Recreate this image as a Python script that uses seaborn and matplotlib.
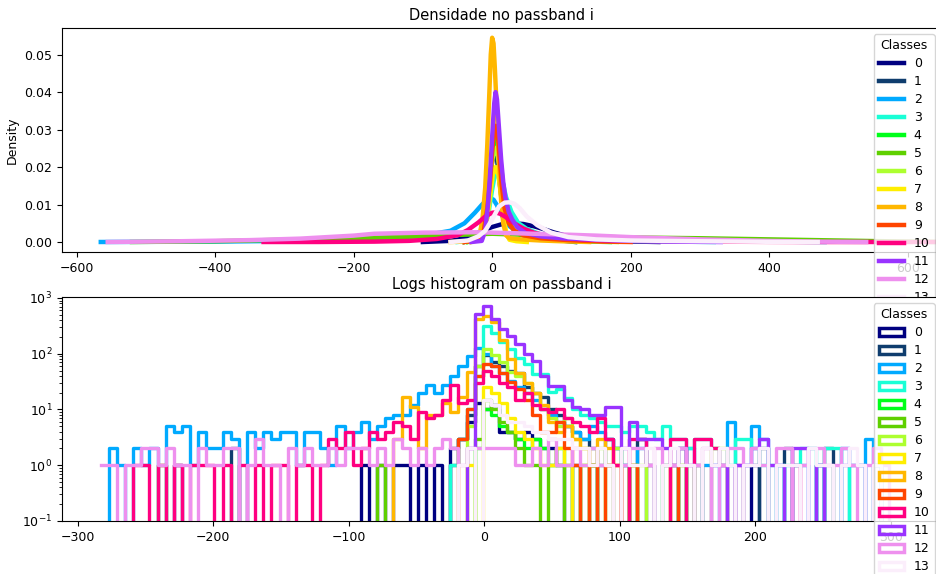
import numpy as np
import matplotlib
matplotlib.use("Agg")
import matplotlib.pyplot as plt
from matplotlib.patches import Patch
import seaborn as sns

# ---------------- data ----------------
classes = [str(i) for i in range(14)]
colors = ['#000080', '#0f3d6e', '#00aaff', '#19ffd6', '#00ff1a', '#5fd000', '#adff2f',
          '#ffee00', '#ffb700', '#ff4500', '#ff0080', '#9933ff', '#ee90ee', '#fbeefb']

# density curves (x, density)
k0x = [-100, -60, -40, -20, 0, 15, 30, 45, 60, 75, 90, 110, 140, 180, 240]
k0y = [0, 0.0003, 0.001, 0.0025, 0.004, 0.0048, 0.005, 0.0048, 0.0042, 0.0034, 0.0025, 0.0015, 0.0006, 0.0002, 0]
k1x = [-40, -20, -12, -6, -2, 2, 4, 7, 10, 14, 19, 25, 35, 50, 80, 120]
k1y = [0, 0.001, 0.004, 0.011, 0.019, 0.0235, 0.024, 0.022, 0.017, 0.011, 0.007, 0.0045, 0.003, 0.0018, 0.0008, 0]
k2x = [-565, -400, -300, -200, -100, -60, -40, -25, -15, -8, -3, 2, 7, 12, 18, 25, 35, 50, 75, 100, 150, 200, 300, 400, 480]
k2y = [0, 0.0001, 0.0003, 0.0007, 0.0017, 0.003, 0.005, 0.0078, 0.0099, 0.0112, 0.0117, 0.0113, 0.0098, 0.0078,
       0.0058, 0.0042, 0.003, 0.002, 0.0013, 0.001, 0.0007, 0.0005, 0.0002, 0.0001, 0]
k3x = [-50, -25, -12, -5, 0, 5, 9, 14, 20, 28, 38, 50, 70, 100, 140, 200, 260, 320]
k3y = [0, 0.0005, 0.003, 0.008, 0.014, 0.019, 0.020, 0.017, 0.012, 0.008, 0.005, 0.0035, 0.002, 0.0012, 0.0006, 0.0003, 0.0001, 0]
k4x = [-35, -18, -10, -5, -1, 3, 6, 9, 13, 17, 21, 26, 32, 40, 55, 80, 120, 170]
k4y = [0, 0.001, 0.005, 0.012, 0.021, 0.027, 0.028, 0.026, 0.020, 0.013, 0.008, 0.005, 0.003, 0.002, 0.0012, 0.0006, 0.0002, 0]
k5x = [-520, -400, -300, -200, -100, -50, 0, 50, 100, 200, 300, 400, 500, 600, 648]
k5y = [0, 0.0002, 0.0006, 0.001, 0.0015, 0.0019, 0.0022, 0.0019, 0.0016, 0.0012, 0.001, 0.0007, 0.0004, 0.0001, 0]
k6x = [-40, -20, -12, -6, -2, 2, 5, 8, 12, 16, 21, 27, 35, 45, 60, 90, 130, 180]
k6y = [0, 0.001, 0.004, 0.011, 0.019, 0.024, 0.025, 0.023, 0.018, 0.012, 0.008, 0.005, 0.0035, 0.0025, 0.0015, 0.0007, 0.0002, 0]
k7x = [-30, -15, -8, -3, 1, 5, 9, 13, 17, 21, 25, 35, 50]
k7y = [0, 0.0008, 0.005, 0.012, 0.018, 0.020, 0.018, 0.012, 0.006, 0.002, 0.0006, 0.0002, 0]
k8x = [-60, -30, -22, -18, -14, -10, -7, -4, -2, 0, 2, 4, 7, 10, 13, 16, 20, 25, 35, 50, 70, 100, 140]
k8y = [0, 0.0002, 0.0007, 0.002, 0.006, 0.0145, 0.026, 0.040, 0.050, 0.0545, 0.053, 0.046, 0.034, 0.021, 0.011,
       0.005, 0.0018, 0.001, 0.0008, 0.0006, 0.0004, 0.0002, 0]
k9x = [-40, -20, -12, -7, -3, 0, 3, 5, 8, 11, 14, 18, 24, 32, 45, 70, 110, 160, 200]
k9y = [0, 0.0005, 0.003, 0.009, 0.016, 0.024, 0.030, 0.031, 0.029, 0.022, 0.015, 0.009, 0.005, 0.003, 0.0018, 0.001, 0.0005, 0.0001, 0]
k10x = [-330, -250, -170, -120, -80, -50, -35, -20, -10, 0, 5, 12, 20, 30, 45, 60, 80, 110, 150, 200, 300, 400, 460, 560, 640]
k10y = [0, 0, 0.0001, 0.0003, 0.0008, 0.0018, 0.0032, 0.0052, 0.0068, 0.0078, 0.0079, 0.0075, 0.0066, 0.0052, 0.0036,
        0.0025, 0.0016, 0.0009, 0.0005, 0.0003, 0.0001, 0.00003, 0, 0, 0]
k11x = [-30, -15, -10, -6, -3, 0, 3, 5, 7, 10, 13, 16, 19, 24, 29, 36, 48, 70, 100, 150, 200, 260, 330]
k11y = [0, 0.0003, 0.003, 0.010, 0.018, 0.028, 0.037, 0.040, 0.038, 0.030, 0.022, 0.016, 0.012, 0.008, 0.006, 0.004,
        0.0024, 0.0015, 0.001, 0.0006, 0.0003, 0.0001, 0]
k12x = [-555, -450, -350, -277, -200, -170, -100, -26, 0, 40, 100, 150, 200, 300, 400, 470, 540]
k12y = [0, 0.0002, 0.0005, 0.0009, 0.0017, 0.0022, 0.0025, 0.0026, 0.0025, 0.0023, 0.002, 0.0017, 0.0013, 0.0007, 0.0003, 0.0001, 0]
k13x = [-60, -35, -20, -10, 0, 10, 18, 25, 32, 40, 50, 65, 85, 110, 150, 200, 300, 400, 470]
k13y = [0, 0.0004, 0.0015, 0.003, 0.006, 0.0095, 0.0105, 0.0106, 0.0102, 0.009, 0.0068, 0.0045, 0.0025, 0.0013,
        0.0007, 0.0004, 0.0002, 0.00005, 0]

kde_x = [k0x, k1x, k2x, k3x, k4x, k5x, k6x, k7x, k8x, k9x, k10x, k11x, k12x, k13x]
kde_y = [k0y, k1y, k2y, k3y, k4y, k5y, k6y, k7y, k8y, k9y, k10y, k11y, k12y, k13y]

# histogram counts per class (bins of width 6 starting at -283)
bin_start = -283
bin_width = 6
h0 = [0, 0, 0, 0, 0, 0, 0, 0, 0, 1,  0, 0, 0, 0, 0, 0, 0, 0, 0, 0,  0, 0, 0, 0, 0, 0, 0, 0, 0, 0,
      0, 0, 1, 0, 1, 0, 1, 1, 0, 1,  0, 1, 0, 2, 3, 6, 13, 10, 12, 4,  4, 3, 4, 3, 2, 2, 1, 0, 1, 0,
      1, 0, 0, 0, 0, 0, 0, 0, 0, 0,  0, 0, 0, 0, 0, 0, 0, 0, 0, 0,  1, 0, 0, 0, 0, 0, 0, 0, 1, 0,
      0, 0, 0, 0, 0, 0, 0, 0]
h1 = [0, 0, 0, 0, 0, 0, 0, 0, 0, 0,  0, 0, 0, 0, 0, 0, 2, 0, 0, 0,  0, 0, 0, 0, 0, 0, 0, 0, 0, 0,
      0, 0, 0, 0, 0, 0, 0, 0, 0, 0,  0, 0, 0, 1, 3, 8, 60, 95, 70, 60,  50, 45, 25, 20, 17, 10, 8, 5, 4, 3,
      2, 1, 3, 2, 1, 0, 3, 0, 0, 0,  0, 2, 0, 0, 0, 0, 0, 0, 0, 0,  0, 2, 0, 0, 2, 0, 0, 0, 0, 2,
      0, 0, 0, 0, 0, 0, 0, 0]
h2 = [0, 2, 1, 0, 2, 1, 2, 0, 5, 4,  5, 1, 4, 2, 2, 4, 3, 0, 4, 2,  4, 3, 4, 4, 1, 4, 4, 2, 1, 5,
      2, 4, 6, 3, 5, 7, 8, 8, 12, 20,  28, 20, 28, 40, 60, 90, 125, 100, 60, 45,  32, 25, 20, 15, 10, 8, 6, 5, 4, 3,
      5, 4, 3, 2, 1, 0, 2, 1, 0, 1,  1, 0, 2, 0, 1, 1, 0, 6, 0, 1,  5, 3, 0, 1, 0, 1, 1, 0, 1, 0,
      0, 2, 0, 0, 3, 1, 0, 0]
h3 = [0, 0, 0, 0, 0, 0, 0, 0, 0, 0,  0, 0, 0, 0, 0, 0, 0, 0, 0, 0,  0, 0, 0, 0, 0, 0, 0, 0, 0, 0,
      0, 0, 0, 0, 0, 0, 0, 0, 0, 0,  0, 0, 0, 1, 3, 10, 40, 320, 240, 160,  120, 85, 65, 43, 43, 21, 23, 16, 10, 8,
      7, 6, 5, 5, 4, 5, 5, 4, 3, 5,  3, 3, 2, 3, 3, 2, 1, 1, 3, 3,  2, 1, 1, 0, 1, 1, 2, 2, 0, 2,
      2, 0, 1, 1, 0, 1, 0, 0]
h4 = [0, 0, 0, 0, 0, 0, 0, 0, 0, 0,  0, 0, 0, 0, 0, 0, 0, 0, 0, 0,  0, 0, 0, 0, 0, 0, 0, 0, 0, 0,
      0, 0, 0, 0, 0, 0, 0, 0, 0, 0,  0, 0, 0, 0, 0, 0, 2, 10, 8, 5,  4, 3, 2, 3, 2, 1, 2, 1, 0, 1,
      1, 0, 0, 0, 0, 1, 0, 0, 0, 0,  0, 0, 0, 0, 0, 0, 0, 0, 0, 0,  0, 0, 0, 0, 0, 0, 0, 0, 0, 0,
      0, 0, 0, 0, 0, 0, 0, 0]
h5 = [0, 0, 0, 0, 0, 0, 0, 1, 0, 0,  0, 0, 0, 0, 0, 0, 0, 0, 0, 0,  0, 0, 0, 0, 0, 0, 0, 0, 0, 0,
      0, 0, 0, 0, 1, 0, 0, 0, 0, 0,  0, 0, 0, 0, 0, 0, 3, 15, 10, 6,  4, 2, 1, 1, 0, 1, 1, 0, 0, 0,
      1, 0, 1, 0, 0, 0, 0, 0, 0, 0,  0, 1, 0, 1, 0, 0, 0, 0, 0, 0,  0, 0, 0, 0, 0, 0, 0, 0, 0, 0,
      0, 0, 0, 0, 0, 0, 0, 0]
h6 = [0, 0, 0, 0, 0, 0, 0, 0, 0, 0,  0, 0, 0, 0, 0, 0, 0, 0, 0, 0,  0, 0, 0, 0, 0, 0, 0, 0, 0, 0,
      0, 0, 0, 0, 0, 0, 0, 0, 0, 0,  0, 0, 0, 0, 0, 5, 60, 120, 95, 70,  47, 40, 30, 20, 10, 7, 5, 7, 3, 2,
      1, 2, 1, 2, 0, 0, 1, 0, 0, 1,  0, 1, 0, 0, 0, 2, 2, 0, 0, 0,  0, 0, 0, 0, 0, 0, 0, 0, 0, 0,
      0, 0, 0, 0, 0, 0, 0, 0]
h7 = [0, 0, 0, 0, 0, 0, 0, 0, 0, 0,  0, 0, 0, 0, 0, 0, 0, 0, 0, 0,  0, 0, 0, 0, 0, 0, 0, 0, 0, 0,
      0, 0, 0, 0, 0, 0, 0, 0, 0, 0,  0, 0, 0, 0, 0, 1, 0, 25, 20, 13,  7, 4, 3, 2, 1, 1, 2, 1, 0, 1,
      0, 0, 0, 0, 0, 0, 0, 0, 0, 0,  0, 0, 0, 0, 0, 0, 0, 0, 0, 0,  0, 0, 0, 0, 0, 0, 0, 0, 0, 0,
      0, 0, 0, 0, 0, 0, 0, 0]
h8 = [0, 0, 0, 0, 0, 0, 0, 0, 0, 0,  0, 0, 0, 0, 0, 0, 0, 0, 0, 0,  0, 0, 0, 0, 0, 0, 0, 0, 0, 0,
      0, 0, 0, 0, 0, 0, 3, 17, 11, 2,  8, 8, 13, 9, 17, 48, 420, 470, 370, 180,  80, 45, 30, 20, 12, 6, 4, 5, 3, 2,
      1, 3, 2, 1, 0, 1, 0, 0, 0, 0,  0, 0, 0, 0, 0, 0, 0, 0, 0, 0,  0, 0, 0, 0, 0, 0, 0, 0, 0, 0,
      0, 0, 0, 0, 0, 0, 0, 0]
h9 = [0, 0, 0, 0, 0, 0, 0, 0, 0, 0,  0, 0, 0, 0, 0, 0, 0, 0, 0, 0,  0, 0, 0, 0, 0, 0, 0, 0, 0, 0,
      0, 0, 0, 0, 0, 0, 0, 0, 0, 0,  0, 0, 0, 0, 3, 10, 40, 65, 60, 45,  31, 23, 15, 8, 4, 4, 6, 2, 1, 0,
      1, 0, 1, 1, 0, 1, 0, 0, 0, 0,  1, 0, 0, 0, 0, 0, 0, 0, 0, 0,  0, 0, 0, 0, 0, 0, 0, 0, 0, 0,
      0, 0, 0, 0, 0, 0, 0, 0]
h10 = [0, 0, 0, 0, 1, 1, 0, 1, 0, 1,  0, 1, 1, 1, 0, 1, 0, 1, 0, 1,  0, 1, 1, 0, 1, 1, 0, 1, 3, 2,
       4, 1, 2, 4, 3, 4, 6, 5, 3, 9,  7, 8, 15, 28, 13, 15, 30, 50, 40, 30,  25, 15, 20, 12, 10, 9, 10, 7, 6, 5,
       4, 7, 3, 1, 0, 3, 3, 1, 0, 0,  3, 3, 0, 3, 3, 2, 1, 0, 1, 0,  0, 0, 0, 0, 0, 1, 0, 0, 0, 0,
       0, 0, 0, 0, 0, 0, 0, 0]
h11 = [0, 0, 0, 0, 0, 0, 0, 0, 0, 0,  0, 0, 0, 0, 0, 0, 0, 0, 0, 0,  0, 0, 0, 0, 0, 0, 0, 0, 0, 0,
       0, 0, 0, 0, 0, 0, 0, 0, 0, 0,  0, 0, 0, 0, 0, 2, 510, 720, 420, 275,  205, 150, 98, 74, 40, 26, 26, 15, 11, 10,
       8, 8, 11, 11, 2, 6, 3, 3, 3, 2,  1, 2, 1, 1, 0, 1, 1, 0, 1, 1,  2, 3, 1, 1, 0, 2, 2, 0, 1, 0,
       0, 1, 1, 1, 0, 1, 0, 0]
h12 = [1, 1, 0, 1, 1, 2, 2, 1, 2, 1,  1, 0, 2, 1, 1, 2, 2, 0, 1, 3,  1, 1, 0, 2, 1, 2, 1, 1, 2, 1,
       2, 2, 2, 1, 2, 1, 3, 2, 1, 2,  1, 2, 3, 2, 1, 2, 2, 2, 2, 2,  2, 1, 1, 2, 1, 3, 1, 1, 2, 1,
       2, 1, 1, 0, 1, 2, 2, 1, 2, 1,  1, 2, 1, 1, 2, 0, 1, 2, 2, 1,  2, 1, 0, 2, 2, 0, 1, 2, 2, 1,
       1, 2, 1, 0, 1, 2, 1, 0]
h13 = [0, 0, 0, 0, 0, 0, 0, 0, 0, 0,  0, 0, 0, 0, 0, 0, 0, 0, 0, 0,  0, 0, 0, 0, 0, 0, 0, 0, 0, 0,
       0, 0, 0, 0, 0, 0, 0, 0, 0, 0,  0, 0, 0, 0, 1, 2, 0, 15, 12, 8,  6, 6, 5, 4, 4, 3, 3, 3, 2, 2,
       1, 2, 1, 0, 2, 1, 1, 2, 0, 1,  2, 1, 1, 0, 2, 1, 2, 1, 0, 1,  1, 2, 0, 1, 1, 1, 0, 2, 1, 1,
       0, 1, 2, 1, 0, 1, 0, 0]
hist_counts = [h0, h1, h2, h3, h4, h5, h6, h7, h8, h9, h10, h11, h12, h13]

# ---------------- figure ----------------
plt.rcParams['font.family'] = ['DejaVu Sans']
plt.rcParams['font.size'] = 9
fig = plt.figure(figsize=(9.37, 5.74), dpi=100)
W, H = 937.0, 574.0
ax1 = fig.add_axes([62 / W, (H - 252) / H, (941 - 62) / W, 224 / H])
ax2 = fig.add_axes([62 / W, (H - 521) / H, (941 - 62) / W, 224 / H])

for cls, col, xs, ys in zip(classes, colors, kde_x, kde_y):
    sns.lineplot(x=xs, y=ys, color=col, linewidth=3.2, label=cls, ax=ax1)
ax1.set_xlim(-621, 648)
ax1.set_ylim(-0.00267, 0.0571)
ax1.set_ylabel('Density')
ax1.set_xlabel('')
ax1.set_title('Densidade no passband i', fontsize=10.5)
ax1.legend(title='Classes', loc='upper right', fontsize=9, title_fontsize=9,
           labelspacing=0.4)

n_bins = len(h0)
edges = [bin_start + bin_width * i for i in range(n_bins + 1)]
centers = [e + bin_width / 2.0 for e in edges[:-1]]
for cls, col, counts in zip(classes, colors, hist_counts):
    sns.histplot(x=centers, weights=counts, bins=edges, element='step', fill=False,
                 color=col, linewidth=2.4, ax=ax2)
ax2.set_yscale('log')
ax2.set_ylim(0.1, 1042)
ax2.set_xlim(-311.5, 337)
ax2.set_ylabel('')
ax2.set_xlabel('')
ax2.set_title('Logs histogram on passband i', fontsize=10.5)
handles = [Patch(facecolor='none', edgecolor=c, linewidth=2.5) for c in colors]
ax2.legend(handles, classes, title='Classes', loc='upper right', fontsize=9, title_fontsize=9,
           labelspacing=0.4)

fig.savefig('out.png', dpi=100)
